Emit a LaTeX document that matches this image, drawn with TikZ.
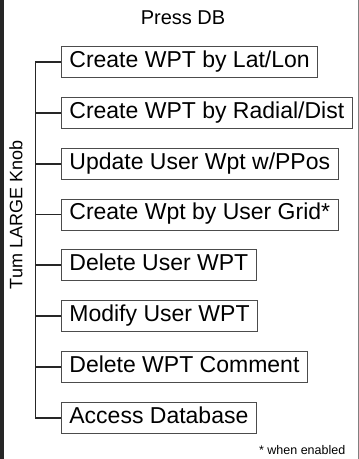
\documentclass[tikz,border=0pt]{standalone}
\usepackage{fontspec}
\setmainfont{Liberation Sans}
\usetikzlibrary{positioning}

\begin{document}
\begin{tikzpicture}[thick,
  menu item/.style={draw=black!70,line width=0.8pt,anchor=west,
    font=\fontsize{23}{27}\selectfont,text height=16pt,text depth=5pt,
    inner xsep=8pt,inner ysep=5pt},
  spine/.style={line width=1.8pt,black!85}]

  \useasboundingbox (0,0) rectangle (359pt,-459pt);
  \fill[black!85] (0,0) rectangle (3.5pt,-459pt);
  \draw[gray,line width=1pt] (358pt,0) -- (358pt,-459pt);

  \node (title) at (183pt,-18pt) {\fontsize{20}{24}\selectfont Press DB};

  \node[menu item] (b1) at (61pt,-62pt) {Create WPT by Lat/Lon};
  \node[menu item] (b2) [below=19pt of b1.south west,anchor=north west] {Create WPT by Radial/Dist};
  \node[menu item] (b3) [below=19pt of b2.south west,anchor=north west] {Update User Wpt w/PPos};
  \node[menu item] (b4) [below=19pt of b3.south west,anchor=north west] {Create Wpt by User Grid*};
  \node[menu item] (b5) [below=19pt of b4.south west,anchor=north west] {Delete User WPT};
  \node[menu item] (b6) [below=19pt of b5.south west,anchor=north west] {Modify User WPT};
  \node[menu item] (b7) [below=19pt of b6.south west,anchor=north west] {Delete WPT Comment};
  \node[menu item] (b8) [below=19pt of b7.south west,anchor=north west] {Access Database};

  \node (knob) [rotate=90] at (16pt,-215pt) {\fontsize{18}{22}\selectfont Tum LARGE Knob};
  \node (note) [anchor=east] at (349pt,-450pt) {\fontsize{12.5}{15}\selectfont * when enabled};

  % the knob line
  \coordinate (sp) at (35.5pt,0);
  \draw[spine] (b1.west) -- (b1.west -| sp) -- (b8.west -| sp) -- (b8.west);
  \foreach \i in {2,...,7}
    \draw[spine] (b\i.west) -- (b\i.west -| sp);
\end{tikzpicture}
\end{document}
